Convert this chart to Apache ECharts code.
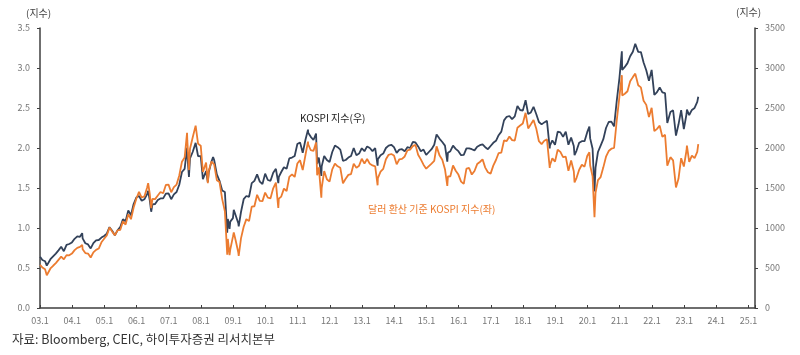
<!DOCTYPE html>
<html><head><meta charset="utf-8">
<script src="https://cdn.jsdelivr.net/npm/echarts@6/dist/echarts.min.js"></script>
<style>html,body{margin:0;padding:0;background:#fff}#c{width:800px;height:355px}</style>
</head><body><div id="c"></div>
<script>
const dates = [
 '2003-01-02','2003-01-28','2003-02-28','2003-03-17','2003-03-28','2003-04-28','2003-05-28','2003-06-28','2003-07-28','2003-08-28','2003-09-28','2003-10-28','2003-11-28','2003-12-28',
 '2004-01-28','2004-02-28','2004-03-28','2004-04-23','2004-04-28','2004-05-28','2004-06-28','2004-07-28','2004-08-28','2004-09-28','2004-10-28','2004-11-28','2004-12-28',
 '2005-01-28','2005-02-28','2005-03-28','2005-04-28','2005-05-28','2005-06-28','2005-07-28','2005-08-28','2005-09-28','2005-10-28','2005-11-28','2005-12-28',
 '2006-01-28','2006-02-28','2006-03-28','2006-04-28','2006-05-10','2006-05-28','2006-06-14','2006-06-28','2006-07-28','2006-08-28','2006-09-28','2006-10-28','2006-11-28','2006-12-28',
 '2007-01-28','2007-02-28','2007-03-28','2007-04-28','2007-05-28','2007-06-28','2007-07-25','2007-07-28','2007-08-16','2007-08-28','2007-09-28','2007-10-31','2007-11-28','2007-12-28',
 '2008-01-22','2008-01-28','2008-02-28','2008-03-17','2008-03-28','2008-04-28','2008-05-16','2008-05-28','2008-06-28','2008-07-28','2008-08-28','2008-09-28','2008-10-24','2008-10-31','2008-11-20','2008-11-28','2008-12-28',
 '2009-01-07','2009-01-28','2009-02-28','2009-03-02','2009-03-28','2009-04-28','2009-05-28','2009-06-28','2009-07-28','2009-08-28','2009-09-28','2009-10-28','2009-11-28','2009-12-28',
 '2010-01-28','2010-02-28','2010-03-28','2010-04-28','2010-05-25','2010-05-31','2010-06-28','2010-07-28','2010-08-28','2010-09-28','2010-10-28','2010-11-28','2010-12-28',
 '2011-01-28','2011-02-28','2011-03-28','2011-04-27','2011-04-29','2011-05-28','2011-06-28','2011-07-27','2011-08-09','2011-08-28','2011-09-26','2011-09-30','2011-10-28','2011-11-28','2011-12-28',
 '2012-01-28','2012-02-28','2012-03-28','2012-04-28','2012-05-28','2012-06-28','2012-07-28','2012-08-28','2012-09-28','2012-10-28','2012-11-28','2012-12-28',
 '2013-01-28','2013-02-28','2013-03-28','2013-04-28','2013-05-28','2013-06-25','2013-06-28','2013-07-28','2013-08-28','2013-09-28','2013-10-28','2013-11-28','2013-12-28',
 '2014-01-28','2014-02-28','2014-03-28','2014-04-28','2014-05-28','2014-06-28','2014-07-28','2014-08-28','2014-09-28','2014-10-28','2014-11-28','2014-12-28',
 '2015-01-28','2015-02-28','2015-03-28','2015-04-24','2015-05-28','2015-06-28','2015-07-28','2015-08-24','2015-08-31','2015-09-28','2015-10-28','2015-11-28','2015-12-28',
 '2016-01-28','2016-02-28','2016-03-28','2016-04-28','2016-05-28','2016-06-28','2016-07-28','2016-08-28','2016-09-28','2016-10-28','2016-11-28','2016-12-28',
 '2017-01-28','2017-02-28','2017-03-28','2017-04-28','2017-05-28','2017-06-28','2017-07-28','2017-08-28','2017-09-28','2017-10-28','2017-11-28','2017-12-28',
 '2018-01-29','2018-02-28','2018-03-28','2018-04-28','2018-05-28','2018-06-28','2018-07-28','2018-08-28','2018-09-28','2018-10-29','2018-10-31','2018-11-28','2018-12-28',
 '2019-01-28','2019-02-28','2019-03-28','2019-04-28','2019-05-28','2019-06-28','2019-07-28','2019-08-06','2019-08-28','2019-09-28','2019-10-28','2019-11-28','2019-12-28',
 '2020-01-22','2020-01-31','2020-02-28','2020-03-19','2020-03-31','2020-04-28','2020-05-28','2020-06-28','2020-07-28','2020-08-28','2020-09-28','2020-10-28','2020-11-28','2020-12-28',
 '2021-01-25','2021-01-29','2021-02-28','2021-03-28','2021-04-28','2021-05-28','2021-06-25','2021-07-06','2021-07-28','2021-08-28','2021-09-28','2021-10-28','2021-11-28','2021-12-28',
 '2022-01-28','2022-02-28','2022-03-28','2022-04-28','2022-05-28','2022-06-23','2022-06-30','2022-07-28','2022-08-28','2022-09-30','2022-10-28','2022-11-28','2022-12-28',
 '2023-01-28','2023-02-02','2023-02-28','2023-03-28','2023-04-28','2023-05-28','2023-06-09'
];
// KOSPI index (right axis)
const kospi = [
 640,600,585,530,545,610,645,680,720,765,710,790,800,820,
 865,895,890,936,870,810,795,745,810,845,850,880,900,
 930,1010,965,910,970,1010,1110,1085,1220,1160,1300,1380,
 1400,1340,1360,1420,1464,1350,1203,1295,1300,1350,1370,1370,1430,1434,
 1360,1420,1450,1540,1700,1740,2004,1930,1638,1870,1950,2064,1900,1897,
 1610,1620,1710,1575,1700,1830,1888,1850,1670,1590,1470,1450,940,1113,990,1080,1124,
 1228,1160,1060,1020,1200,1360,1400,1390,1560,1590,1670,1580,1550,1680,
 1600,1590,1690,1740,1560,1640,1700,1760,1740,1870,1880,1900,2050,
 2070,1940,2100,2230,2190,2140,2100,2180,1800,1880,1650,1770,1900,1850,1825,
 1950,2030,2010,1980,1840,1850,1880,1900,2000,1910,1930,1997,
 1960,2020,2000,1960,2000,1780,1860,1910,1930,2000,2030,2040,2011,
 1940,1980,1985,1960,2010,2000,2075,2070,2020,1960,1980,1915,
 1950,1985,2040,2170,2115,2075,2030,1830,1940,1960,2030,1990,1960,
 1910,1915,1995,1995,1985,1970,2015,2035,2045,2010,1985,2025,
 2065,2090,2160,2205,2345,2390,2400,2360,2395,2525,2475,2467,
 2598,2425,2445,2515,2425,2325,2295,2320,2340,1996,2030,2095,2041,
 2205,2195,2140,2205,2040,2130,2025,1910,1965,2065,2085,2085,2198,
 2267,2120,1990,1457,1755,1950,2030,2110,2250,2325,2330,2270,2590,2873,
 3208,2976,3013,3061,3147,3204,3302,3305,3202,3199,3069,2971,2839,2977,
 2663,2699,2757,2695,2685,2314,2332,2451,2472,2155,2293,2473,2236,
 2425,2480,2412,2476,2501,2577,2641
];
// Dollar-converted KOSPI (left axis)
const kospiUsd = [
 0.54,0.506,0.483,0.41,0.428,0.494,0.528,0.561,0.602,0.643,0.609,0.661,0.658,0.68,
 0.723,0.752,0.765,0.79,0.735,0.687,0.68,0.631,0.696,0.726,0.743,0.821,0.865,
 0.907,1.005,0.955,0.91,0.97,0.976,1.083,1.043,1.173,1.11,1.256,1.366,
 1.451,1.381,1.395,1.503,1.56,1.429,1.247,1.363,1.361,1.406,1.45,1.435,1.538,1.542,
 1.447,1.511,1.543,1.656,1.828,1.881,2.19,2.098,1.724,1.99,2.131,2.28,2.054,2.029,
 1.70,1.714,1.819,1.56,1.717,1.83,1.815,1.796,1.598,1.574,1.361,1.208,0.667,0.863,0.66,0.73,0.892,
 0.945,0.847,0.693,0.65,0.87,1.015,1.111,1.086,1.268,1.272,1.415,1.339,1.336,1.442,
 1.379,1.371,1.496,1.568,1.25,1.367,1.393,1.492,1.462,1.64,1.671,1.638,1.806,
 1.848,1.724,1.909,2.08,2.047,1.972,1.963,2.07,1.66,1.757,1.38,1.5,1.712,1.609,1.58,
 1.733,1.804,1.771,1.752,1.559,1.616,1.664,1.674,1.802,1.752,1.779,1.866,
 1.806,1.862,1.802,1.782,1.77,1.534,1.624,1.705,1.739,1.86,1.915,1.925,1.906,
 1.796,1.859,1.864,1.894,1.971,1.98,2.024,2.039,1.915,1.858,1.792,1.741,
 1.773,1.805,1.838,2.02,1.905,1.853,1.735,1.525,1.644,1.647,1.781,1.716,1.668,
 1.579,1.551,1.742,1.75,1.668,1.713,1.799,1.825,1.859,1.755,1.697,1.68,
 1.78,1.85,1.937,1.943,2.094,2.087,2.143,2.098,2.092,2.254,2.281,2.306,
 2.44,2.245,2.296,2.35,2.245,2.085,2.049,2.09,2.108,1.751,1.781,1.871,1.83,
 1.978,1.951,1.885,1.893,1.714,1.844,1.709,1.57,1.624,1.728,1.79,1.767,1.9,
 1.946,1.782,1.645,1.134,1.439,1.598,1.637,1.758,1.891,1.962,1.991,2.0,2.344,2.641,
 2.91,2.657,2.678,2.709,2.835,2.886,2.93,2.925,2.784,2.758,2.59,2.539,2.386,2.502,
 2.21,2.24,2.279,2.139,2.165,1.78,1.801,1.885,1.845,1.507,1.615,1.873,1.768,
 1.972,2.03,1.827,1.905,1.873,1.952,2.047
];
const xTickLabels = ['03.1','04.1','05.1','06.1','07.1','08.1','09.1','10.1','11.1','12.1','13.1','14.1','15.1','16.1','17.1','18.1','19.1','20.1','21.1','22.1','23.1','24.1','25.1'];
const leftTicks = ['0.0','0.5','1.0','1.5','2.0','2.5','3.0','3.5'];
const rightTicks = ['0','500','1000','1500','2000','2500','3000','3500'];

function toYear(d){const p=d.split('-').map(Number);return p[0]+(p[1]-1)/12+(p[2]-1)/365;}
const darkData = dates.map((d,i)=>[toYear(d),kospi[i]]);
const orangeData = dates.map((d,i)=>[toYear(d),kospiUsd[i]]);

const FONT='"Noto Sans CJK KR","Noto Sans",sans-serif';
const axisLineStyle={color:'#3f3f3f',width:1.5};
const labelStyle={color:'#777',fontSize:9,fontFamily:FONT};
const chart=echarts.init(document.getElementById('c'),null,{renderer:'canvas'});
chart.setOption({
  animation:false,
  backgroundColor:'#fff',
  grid:{left:40,right:45,top:28,bottom:47,containLabel:false},
  xAxis:{type:'value',min:2003,max:2025.2,interval:1,
    axisLine:{show:true,onZero:false,lineStyle:axisLineStyle},
    axisTick:{show:true,inside:true,length:3,lineStyle:{color:'#3f3f3f'}},
    splitLine:{show:false},
    axisLabel:Object.assign({margin:8,formatter:v=>{const i=v-2003;return Number.isInteger(i)&&xTickLabels[i]?xTickLabels[i]:'';}},labelStyle)
  },
  yAxis:[
    {type:'value',position:'left',min:0,max:3.5,interval:0.5,
     axisLine:{show:true,lineStyle:axisLineStyle},
     axisTick:{show:true,length:3,lineStyle:{color:'#3f3f3f'}},
     splitLine:{show:false},
     axisLabel:Object.assign({margin:10,formatter:v=>leftTicks[Math.round(v*2)]},labelStyle)},
    {type:'value',position:'right',min:0,max:3500,interval:500,
     axisLine:{show:true,lineStyle:axisLineStyle},
     axisTick:{show:true,length:3,lineStyle:{color:'#3f3f3f'}},
     splitLine:{show:false},
     axisLabel:Object.assign({margin:10,formatter:v=>rightTicks[Math.round(v/500)]},labelStyle)}
  ],
  series:[
    {name:'KOSPI 지수(우)',type:'line',yAxisIndex:1,data:darkData,showSymbol:false,
     lineStyle:{color:'#33425a',width:1.8},itemStyle:{color:'#33425a'}},
    {name:'달러 환산 기준 KOSPI 지수(좌)',type:'line',yAxisIndex:0,data:orangeData,showSymbol:false,
     lineStyle:{color:'#ec7c30',width:1.8},itemStyle:{color:'#ec7c30'}}
  ],
  graphic:[
    {type:'text',left:26,top:8,style:{text:'(지수)',fill:'#444',font:'10px '+FONT}},
    {type:'text',left:736,top:7,style:{text:'(지수)',fill:'#444',font:'10px '+FONT}},
    {type:'text',left:300,top:113,style:{text:'KOSPI 지수(우)',fill:'#222',font:'10px '+FONT}},
    {type:'text',left:368,top:204,style:{text:'달러 환산 기준 KOSPI 지수(좌)',fill:'#ec7c30',font:'10px '+FONT}},
    {type:'text',left:12,top:333,style:{text:'자료: Bloomberg, CEIC, 하이투자증권 리서치본부',fill:'#333',font:'12.5px '+FONT}}
  ]
});
</script></body></html>
